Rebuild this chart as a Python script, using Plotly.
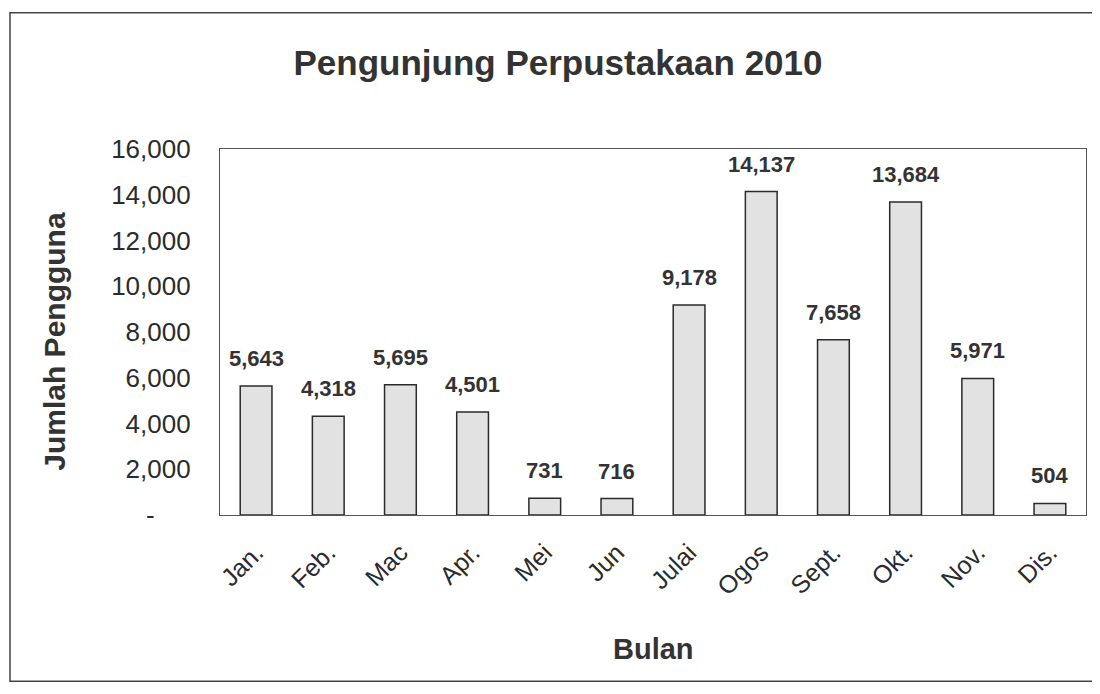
import plotly.graph_objects as go

bulan = ["Jan.", "Feb.", "Mac", "Apr.", "Mei", "Jun", "Julai", "Ogos", "Sept.", "Okt.", "Nov.", "Dis."]
pengunjung = [5643, 4318, 5695, 4501, 731, 716, 9178, 14137, 7658, 13684, 5971, 504]

y_ticks = [0, 2000, 4000, 6000, 8000, 10000, 12000, 14000, 16000]
y_labels = ["-" + "\u00a0" * 5, "2,000", "4,000", "6,000", "8,000",
            "10,000", "12,000", "14,000", "16,000"]

ink = "#2b2b2b"
font_family = "Arial, Liberation Sans"

fig = go.Figure()
fig.add_bar(
    x=bulan,
    y=pengunjung,
    marker=dict(color="#e2e2e2", line=dict(color=ink, width=1.5)),
    hoverinfo="x+y",
)

# value labels sit a bit higher above the bars than plotly's default "outside" text
for b, v in zip(bulan, pengunjung):
    fig.add_annotation(
        x=b, y=v, text=f"<b>{v:,}</b>", showarrow=False,
        yanchor="bottom", yshift=13,
        font=dict(family=font_family, size=22, color="#333333"),
    )

fig.update_layout(
    width=1100,
    height=694,
    paper_bgcolor="white",
    plot_bgcolor="white",
    margin=dict(l=212, r=22, t=141, b=187),
    bargap=0.56,
    showlegend=False,
    font=dict(family=font_family, color=ink),
    title=dict(
        text="<b>Pengunjung Perpustakaan 2010</b>",
        x=0.5, xanchor="center", y=1 - 55 / 694, yanchor="middle",
        font=dict(size=35, color="#333333"),
    ),
)

fig.update_yaxes(
    range=[0, 16000],
    tickvals=y_ticks,
    ticktext=y_labels,
    tickfont=dict(size=26, color=ink),
    showgrid=False,
    zeroline=False,
    showline=True,
    linecolor="#555555",
    linewidth=1.2,
    mirror=True,
    ticks="",
    ticklabelstandoff=23,
)
fig.update_xaxes(
    tickangle=-45,
    tickfont=dict(size=25, color=ink),
    showline=True,
    linecolor="#555555",
    linewidth=1.2,
    mirror=True,
    ticks="",
    ticklabelstandoff=12,
)

# axis titles
fig.add_annotation(text="<b>Jumlah Pengguna</b>", xref="paper", yref="paper",
                   x=-0.191, y=0.475, xanchor="center", yanchor="middle",
                   textangle=-90, showarrow=False,
                   font=dict(size=30, color="#333333"))
fig.add_annotation(text="<b>Bulan</b>", xref="paper", yref="paper",
                   x=0.5, y=-0.366, xanchor="center", yanchor="middle",
                   showarrow=False,
                   font=dict(size=29, color="#333333"))

# outer chart border
fig.add_shape(type="rect", xref="paper", yref="paper",
              x0=-0.2425, x1=1.1, y0=-0.454, y1=1.372,
              line=dict(color="#444444", width=1.5))

fig.write_html("out.html")
